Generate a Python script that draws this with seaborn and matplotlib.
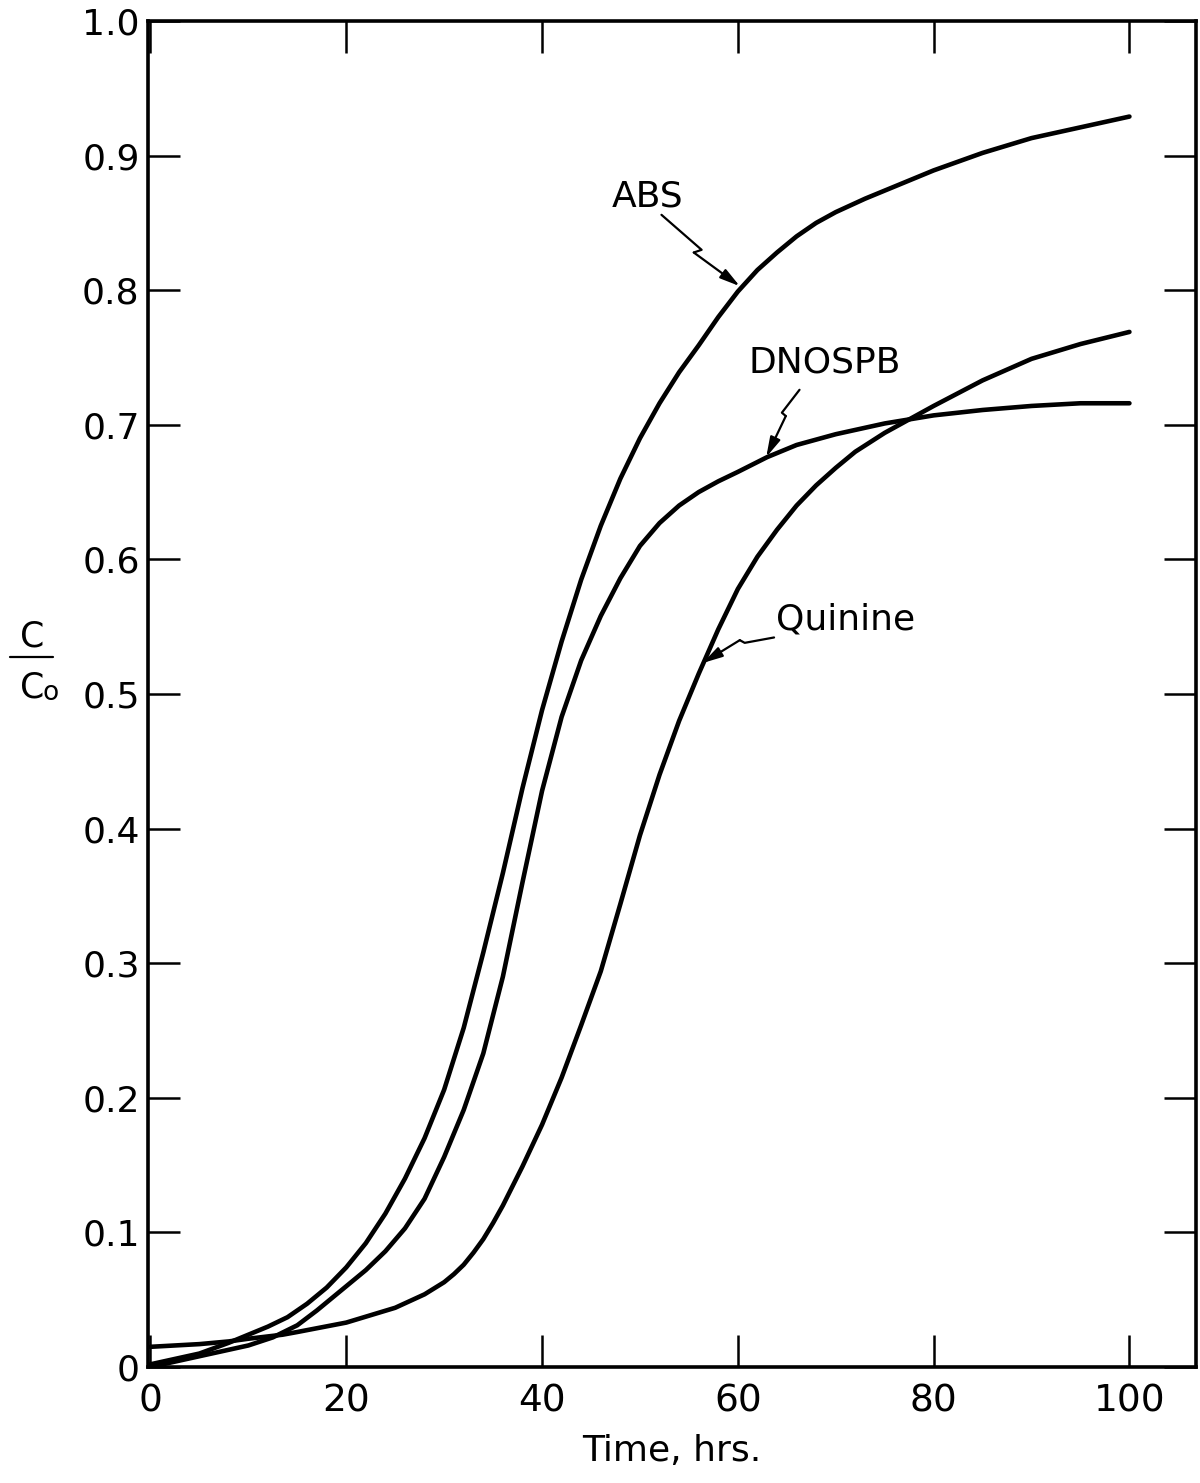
import numpy as np
import pandas as pd
import matplotlib
matplotlib.use("Agg")
import matplotlib.pyplot as plt
import seaborn as sns

# Breakthrough curves, C/Co versus time (hrs)
abs_t = [0, 5, 8, 10, 12, 14, 16, 18, 20, 22, 24, 26, 28, 30, 32, 34, 36, 38,
         40, 42, 44, 46, 48, 50, 52, 54, 56, 58, 60, 62, 64, 66, 68, 70, 73,
         76, 80, 85, 90, 95, 100]
abs_c = [0.002, 0.010, 0.018, 0.024, 0.030, 0.037, 0.047, 0.059, 0.074, 0.092,
         0.114, 0.140, 0.170, 0.206, 0.252, 0.308, 0.367, 0.430, 0.488, 0.539,
         0.585, 0.625, 0.660, 0.690, 0.716, 0.739, 0.759, 0.780, 0.799, 0.815,
         0.828, 0.840, 0.850, 0.858, 0.868, 0.877, 0.889, 0.902, 0.913, 0.921,
         0.929]

dnospb_t = [0, 5, 10, 12.5, 15, 17, 20, 22, 24, 26, 28, 30, 32, 34, 36, 38, 40,
            42, 44, 46, 48, 50, 52, 54, 56, 58, 60, 63, 66, 70, 75, 80, 85, 90,
            95, 100]
dnospb_c = [0.000, 0.008, 0.016, 0.022, 0.031, 0.042, 0.060, 0.072, 0.086,
            0.103, 0.125, 0.156, 0.191, 0.233, 0.290, 0.360, 0.428, 0.483,
            0.525, 0.558, 0.586, 0.610, 0.627, 0.640, 0.650, 0.658, 0.665,
            0.676, 0.685, 0.693, 0.701, 0.707, 0.711, 0.714, 0.716, 0.716]

quinine_t = [0, 5, 8, 10, 13.5, 15, 20, 25, 28, 30, 31, 32, 33, 34, 35, 36, 38,
             40, 42, 44, 46, 48, 50, 52, 54, 56, 58, 60, 62, 64, 66, 68, 70, 72,
             75, 78, 80, 85, 90, 95, 100]
quinine_c = [0.015, 0.017, 0.019, 0.021, 0.024, 0.026, 0.033, 0.044, 0.054,
             0.063, 0.069, 0.076, 0.085, 0.095, 0.107, 0.120, 0.149, 0.180,
             0.215, 0.254, 0.294, 0.344, 0.395, 0.440, 0.480, 0.515, 0.548,
             0.578, 0.602, 0.622, 0.640, 0.655, 0.668, 0.680, 0.694, 0.706,
             0.714, 0.733, 0.749, 0.760, 0.769]

x_ticks = [0, 20, 40, 60, 80, 100]
y_ticks = [0, 0.1, 0.2, 0.3, 0.4, 0.5, 0.6, 0.7, 0.8, 0.9, 1.0]
y_tick_labels = ["0", "0.1", "0.2", "0.3", "0.4", "0.5", "0.6", "0.7", "0.8",
                 "0.9", "1.0"]

df = pd.concat([
    pd.DataFrame({"t": abs_t, "c": abs_c, "compound": "ABS"}),
    pd.DataFrame({"t": dnospb_t, "c": dnospb_c, "compound": "DNOSPB"}),
    pd.DataFrame({"t": quinine_t, "c": quinine_c, "compound": "Quinine"}),
], ignore_index=True)

sns.set_style("ticks")
plt.rcParams["font.family"] = ["DejaVu Sans"]
plt.rcParams.update({"text.color": "black", "axes.labelcolor": "black",
                     "xtick.color": "black", "ytick.color": "black",
                     "lines.solid_joinstyle": "round"})

W, H = 1200, 1483
fig = plt.figure(figsize=(W / 100, H / 100), dpi=100)
ax = fig.add_axes([148 / W, 1 - 1367 / H, (1196 - 148) / W, (1367 - 21) / H])

sns.lineplot(data=df, x="t", y="c", hue="compound",
             palette=["black", "black", "black"], linewidth=3.3,
             legend=False, ax=ax, sort=True, estimator=None)

ax.set_xlim(-0.25, 106.8)
ax.set_ylim(0, 1.0)
ax.set_xticks(x_ticks)
ax.set_xticklabels([str(v) for v in x_ticks])
ax.set_yticks(y_ticks)
ax.set_yticklabels(y_tick_labels)
ax.tick_params(axis="both", direction="in", length=23, width=1.8,
               color="black", labelcolor="black", top=True, right=True)
ax.tick_params(axis="x", labelsize=27, pad=12)
ax.tick_params(axis="y", labelsize=26, pad=6)
for s in ax.spines.values():
    s.set_linewidth(2.6)
    s.set_color("black")

ax.set_xlabel("Time, hrs.", fontsize=26, labelpad=10, color="black")
ax.set_ylabel("")

# C / Co axis label drawn as a stacked fraction
fig.text(32 / W, 1 - 636 / H, "C", fontsize=25, ha="center", va="center")
fig.add_artist(plt.Line2D([10 / W, 53 / W], [1 - 657 / H, 1 - 657 / H],
                          color="black", linewidth=1.6))
fig.text(32 / W, 1 - 687 / H, "C", fontsize=25, ha="center", va="center")
fig.text(51 / W, 1 - 693 / H, "o", fontsize=19, ha="center", va="center")

# Curve labels with lightning-style leader arrows
label_kw = dict(fontsize=26, ha="center", va="baseline", color="black")
ax.text(50.8, 0.862, "ABS", **label_kw)
ax.text(68.9, 0.7385, "DNOSPB", **label_kw)
ax.text(71.0, 0.548, "Quinine", **label_kw)

leaders = [
    ([52.2, 56.3, 55.5], [0.856, 0.830, 0.828], (60.2, 0.803)),
    ([66.3, 64.5, 64.9], [0.726, 0.709, 0.7065], (62.9, 0.676)),
    ([63.7, 60.7, 60.2], [0.542, 0.538, 0.540], (56.4, 0.523)),
]
for xs, ys, tip in leaders:
    ax.plot(xs, ys, color="black", linewidth=1.6, solid_capstyle="round")
    ax.annotate("", xy=tip, xytext=(xs[-1], ys[-1]),
                arrowprops=dict(arrowstyle="-|>,head_length=1.2,head_width=0.32",
                                color="black", linewidth=1.6,
                                shrinkA=0, shrinkB=0))

fig.savefig("out.png", dpi=100, facecolor="white")
